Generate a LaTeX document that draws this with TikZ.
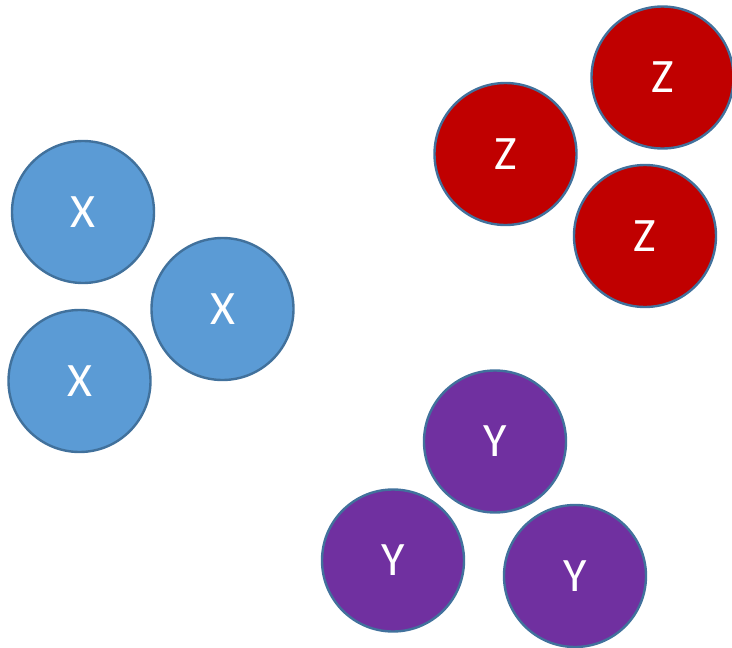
\documentclass[tikz,border=0pt]{standalone}
\usepackage{fontspec}
\setmainfont{Carlito}
\definecolor{xblue}{HTML}{5B9BD5}
\definecolor{zred}{HTML}{C00000}
\definecolor{ypurple}{HTML}{7030A0}
\definecolor{rim}{HTML}{41719C}
\newcommand{\balltext}[1]{\raisebox{-3pt}{#1}}
\begin{document}
\begin{tikzpicture}[x=1pt,y=-1pt,
  ball/.style={circle,draw=rim,line width=2.4pt,minimum size=142pt,inner sep=0pt,text=white,font=\fontsize{48}{48}\selectfont},
  xb/.style={ball,fill=xblue},
  zb/.style={ball,fill=zred},
  yb/.style={ball,fill=ypurple}]
\useasboundingbox (0,0) rectangle (732,648);
\node[xb] (x1) at (83,212) {\balltext{X}};
\node[xb] (x2) at (222.5,309) {\balltext{X}};
\node[xb] (x3) at (79.5,381) {\balltext{X}};
\node[zb] (z1) at (505.5,154) {\balltext{Z}};
\node[zb] (z2) at (662.5,77.5) {\balltext{Z}};
\node[zb] (z3) at (645,236) {\balltext{Z}};
\node[yb] (y1) at (495,441.5) {\balltext{Y}};
\node[yb] (y2) at (393,560.5) {\balltext{Y}};
\node[yb] (y3) at (575,576) {\balltext{Y}};
\end{tikzpicture}
\end{document}
